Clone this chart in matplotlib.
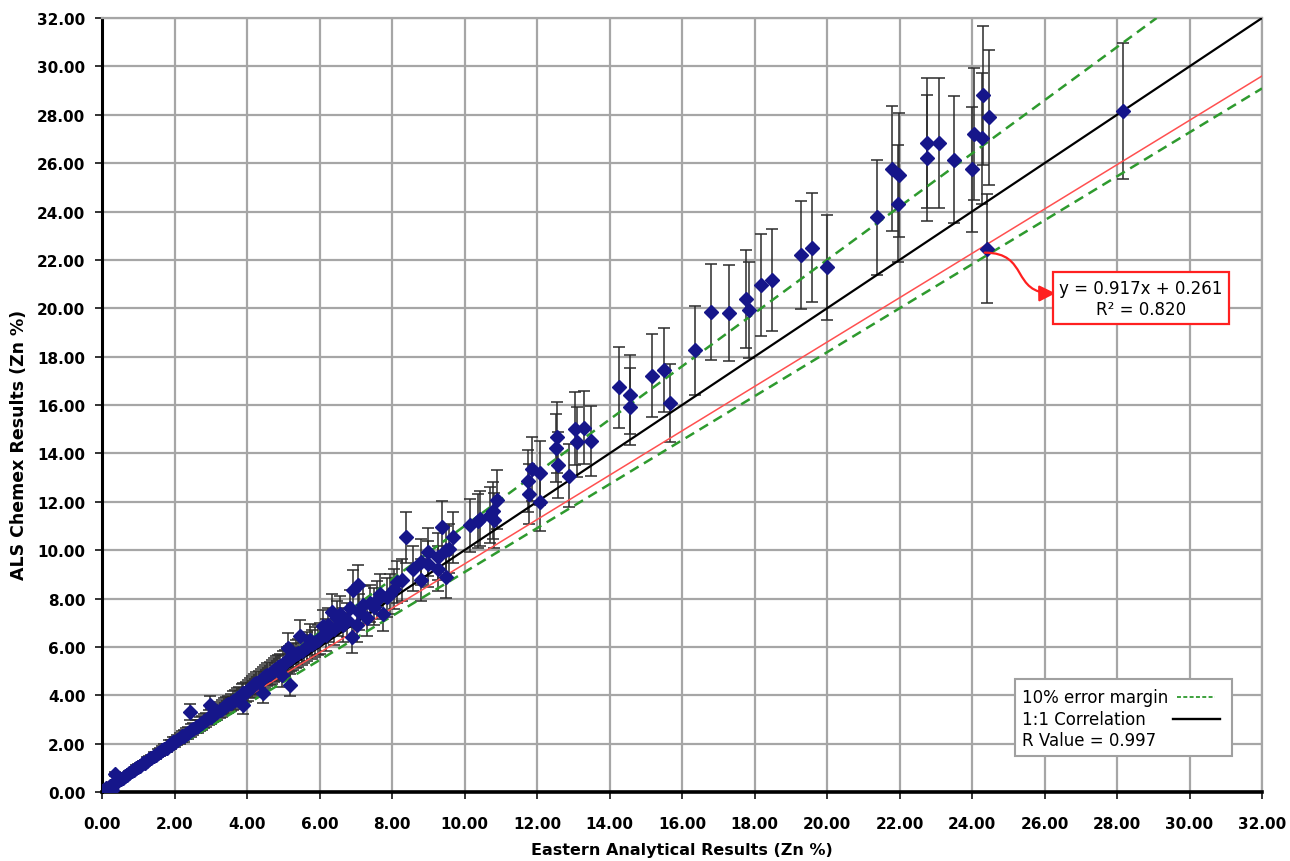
import matplotlib
matplotlib.use("Agg")
import matplotlib.pyplot as plt
from matplotlib.patches import Rectangle, FancyArrowPatch
from matplotlib.path import Path
import numpy as np

plt.rcParams['font.family'] = ['DejaVu Sans']

# ---- data (Eastern Analytical vs ALS Chemex, Zn %) ----
eastern = [
    0.02, 0.05, 0.08, 0.12, 0.18, 0.22, 0.28, 0.30, 0.36, 0.40, 0.45, 0.52, 0.58, 0.63, 0.70,
    0.75, 0.82, 0.88, 0.95, 1.00, 1.05, 1.12, 1.18, 1.25, 1.30, 1.36, 1.42, 1.48, 1.55, 1.60,
    1.66, 1.72, 1.78, 1.85, 1.90, 1.96, 2.02, 2.08, 2.15, 2.20, 2.26, 2.32, 2.38, 2.43, 2.45,
    2.52, 2.58, 2.64, 2.70, 2.76, 2.82, 2.88, 2.95, 2.98, 3.00, 3.05, 3.12, 3.18, 3.25, 3.30,
    3.36, 3.42, 3.48, 3.55, 3.60, 3.66, 3.72, 3.78, 3.85, 3.90, 3.90, 3.96, 4.02, 4.08, 4.15,
    4.20, 4.26, 4.32, 4.38, 4.45, 4.45, 4.50, 4.56, 4.62, 4.68, 4.75, 4.80, 4.86, 4.92, 4.96,
    4.98, 5.05, 5.10, 5.14, 5.16, 5.19, 5.22, 5.28, 5.35, 5.40, 5.46, 5.52, 5.58, 5.65, 5.74,
    5.80, 5.88, 5.95, 6.02, 6.10, 6.18, 6.24, 6.34, 6.40, 6.48, 6.57, 6.66, 6.75, 6.84, 6.90,
    6.93, 7.03, 7.07, 7.10, 7.21, 7.30, 7.40, 7.49, 7.58, 7.67, 7.76, 7.85, 7.95, 8.05, 8.13,
    8.27, 8.39, 8.57, 8.79, 8.80, 8.98, 9.00, 9.26, 9.28, 9.37, 9.50, 9.50, 9.58, 9.69, 10.16,
    10.38, 10.43, 10.70, 10.79, 10.81, 10.89, 11.76, 11.79, 11.86, 12.08, 12.08, 12.51, 12.56, 12.59, 12.88,
    13.05, 13.10, 13.30, 13.48, 14.26, 14.57, 14.57, 15.17, 15.49, 15.68, 16.37, 16.80, 17.29, 17.77, 17.86,
    18.18, 18.48, 19.29, 19.58, 20.00, 21.39, 21.78, 21.99, 21.95, 22.77, 22.77, 23.09, 23.50, 23.99, 24.06,
    24.29, 24.28, 24.48, 24.40, 28.17,
]
als = [
    0.03, 0.08, 0.02, 0.15, 0.05, 0.25, 0.08, 0.35, 0.74, 0.42, 0.50, 0.55, 0.60, 0.68, 0.72,
    0.80, 0.85, 0.92, 1.00, 1.05, 1.08, 1.18, 1.22, 1.30, 1.36, 1.40, 1.50, 1.52, 1.62, 1.65,
    1.72, 1.80, 1.82, 1.95, 1.96, 2.05, 2.08, 2.16, 2.22, 2.30, 2.32, 2.42, 2.45, 3.30, 2.55,
    2.60, 2.70, 2.72, 2.82, 2.85, 2.95, 2.98, 3.10, 3.60, 3.12, 3.20, 3.25, 3.30, 3.40, 3.45,
    3.52, 3.58, 3.62, 3.70, 3.78, 3.82, 3.90, 3.95, 4.05, 4.10, 3.60, 4.15, 4.20, 4.30, 4.35,
    4.45, 4.50, 4.55, 4.62, 4.70, 4.08, 4.78, 4.85, 4.90, 4.95, 5.05, 5.10, 5.15, 5.20, 4.84,
    5.30, 5.35, 5.45, 5.97, 5.50, 4.43, 5.55, 5.62, 5.70, 5.75, 6.46, 5.85, 5.92, 6.00, 6.30,
    6.10, 6.20, 6.28, 6.35, 6.85, 6.50, 6.90, 7.45, 6.75, 7.18, 7.38, 6.90, 7.10, 7.59, 6.40,
    8.34, 6.90, 8.55, 7.45, 7.73, 7.18, 7.80, 7.66, 7.95, 8.20, 7.38, 8.05, 8.20, 8.40, 8.68,
    8.76, 10.54, 9.24, 9.51, 8.76, 9.44, 9.93, 9.72, 9.24, 10.95, 9.99, 8.90, 10.06, 10.54, 11.02,
    11.19, 11.30, 11.46, 11.64, 11.23, 12.09, 12.87, 12.33, 13.35, 13.19, 11.98, 14.22, 14.66, 13.52, 13.08,
    15.03, 14.48, 15.07, 14.52, 16.73, 16.43, 15.92, 17.22, 17.44, 16.09, 18.26, 19.83, 19.80, 20.39, 19.94,
    20.97, 21.18, 22.20, 22.50, 21.70, 23.76, 25.77, 25.52, 24.33, 26.83, 26.21, 26.83, 26.15, 25.74, 27.21,
    28.81, 27.03, 27.89, 22.46, 28.15,
]
error_fraction = 0.10          # percentage error bars / margin
trend_slope, trend_intercept = 0.917, 0.261
r_squared = 0.820
r_value = 0.997
ticks = [0, 2, 4, 6, 8, 10, 12, 14, 16, 18, 20, 22, 24, 26, 28, 30, 32]
legend_labels = ['10% error margin', '1:1 Correlation', f'R Value = {r_value:.3f}']

eastern = np.array(eastern)
als = np.array(als)

GREEN = '#2e9a2e'
fig = plt.figure(figsize=(12.9, 8.62), dpi=100)
ax = fig.add_axes([0.0791, 0.0800, 0.8992, 0.8979])
ax.set_xlim(0, 32)
ax.set_ylim(0, 32)

# grid
ax.set_xticks(ticks)
ax.set_yticks(ticks)
ax.grid(True, color='#a6a6a6', linewidth=1.6, zorder=0)
ax.set_axisbelow(True)

# reference lines
xl = np.array([0, 32])
ax.plot(xl, xl, color='black', lw=1.6, zorder=3)
ax.plot(xl, trend_slope * xl + trend_intercept, color='#ff5050', lw=1.1, zorder=3)
xu = np.array([0, 32 / (1 + error_fraction)])
ax.plot(xu, (1 + error_fraction) * xu, color=GREEN, lw=1.8, ls=(0, (4, 2.5)), zorder=3)
ax.plot(xl, xl / (1 + error_fraction), color=GREEN, lw=1.8, ls=(0, (4, 2.5)), zorder=3)

# data with 10% error bars
ax.errorbar(eastern, als, yerr=error_fraction * als, fmt='none', ecolor='#2b2b2b',
            elinewidth=1.1, capsize=4, capthick=1.1, zorder=2)
ax.plot(eastern, als, ls='none', marker='D', markersize=7.5, color='#16168a',
        markeredgecolor='#16168a', zorder=4)

# spines
for s in ['top', 'right']:
    ax.spines[s].set_color('#a6a6a6')
    ax.spines[s].set_linewidth(1.6)
ax.spines['left'].set_color('black')
ax.spines['left'].set_linewidth(2.2)
ax.spines['bottom'].set_color('black')
ax.spines['bottom'].set_linewidth(2.6)
ax.tick_params(axis='both', direction='out', length=5, width=1.4, color='#333333',
               labelsize=11)
ax.tick_params(axis='x', pad=12)
ax.tick_params(axis='y', pad=7)
ax.set_xticklabels([f"{t:.2f}" for t in ticks], fontweight='bold')
ax.set_yticklabels([f"{t:.2f}" for t in ticks], fontweight='bold')

ax.set_xlabel('Eastern Analytical Results (Zn %)', fontsize=11.5, fontweight='bold', labelpad=8)
ax.set_ylabel('ALS Chemex Results (Zn %)', fontsize=12.5, fontweight='bold')
ax.yaxis.set_label_coords(-0.064, 0.45)

# trend equation box with curved arrow
ax.text(28.66, 20.42, f"y = {trend_slope:.3f}x + {trend_intercept:.3f}\nR² = {r_squared:.3f}",
        ha='center', va='center', fontsize=12, linespacing=1.2, zorder=6,
        bbox=dict(boxstyle='square,pad=0.4', facecolor='white', edgecolor='#ff2020', lw=1.6))
arrow_path = Path([(24.35, 22.3), (25.6, 22.3), (25.05, 20.6), (26.3, 20.62)],
                  [Path.MOVETO, Path.CURVE4, Path.CURVE4, Path.CURVE4])
arrow = FancyArrowPatch(path=arrow_path, arrowstyle='-|>,head_length=0.7,head_width=0.35',
                        color='#ff2020', lw=1.6, mutation_scale=14, zorder=6)
ax.add_patch(arrow)

# key box (legend)
ta = ax.transAxes
ax.add_patch(Rectangle((0.787, 0.0465), 0.1871, 0.0995, transform=ta, facecolor='white',
                       edgecolor='#a0a0a0', lw=1.5, zorder=7))
ys = [0.1227, 0.0943, 0.0672]
for lab, yy in zip(legend_labels, ys):
    ax.text(0.7931, yy, lab, transform=ta, ha='left', va='center', fontsize=12, zorder=8)
ax.plot([0.9267, 0.9595], [ys[0], ys[0]], transform=ta, color=GREEN, lw=1.3,
        ls=(0, (2.2, 1.3)), zorder=8)
ax.plot([0.9233, 0.9638], [ys[1], ys[1]], transform=ta, color='black', lw=1.7, zorder=8)

fig.savefig('out.png', dpi=100)
